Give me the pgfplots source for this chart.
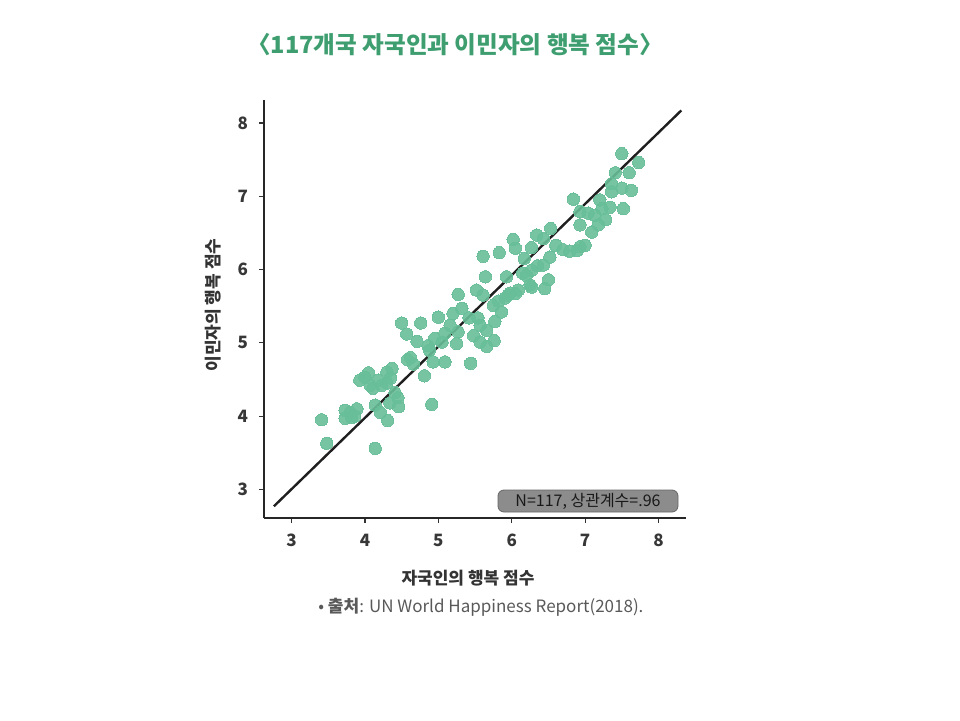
\documentclass[border=0pt]{standalone}
\usepackage{pgfplots}
\pgfplotsset{compat=1.18}
\usepackage{fontspec}
\setmainfont{Liberation Sans}
\newfontfamily\kr{Noto Sans CJK KR}
\definecolor{ptgreen}{RGB}{104,190,152}
\definecolor{titlegreen}{RGB}{62,158,112}
\definecolor{ticklab}{RGB}{55,55,55}
\begin{document}
\begin{tikzpicture}
\path[use as bounding box] (0pt,0pt) rectangle (480pt,360pt);
\begin{axis}[
  at={(132pt,101pt)}, anchor=south west,
  x=36.7pt, y=36.65pt,
  xmin=2.625, xmax=8.38, ymin=2.61, ymax=8.31,
  axis lines*=left,
  axis line style={line width=0.6pt, color=black!85, -},
  xtick={3,4,5,6,7,8}, ytick={3,4,5,6,7,8},
  tick align=outside,
  major tick length=2.5pt,
  tick style={line width=0.6pt, color=black!80},
  tick label style={font=\kr\bfseries\fontsize{8.5}{10}\selectfont, color=ticklab},
  /pgf/number format/assume math mode=true,
  xticklabel style={yshift=-2pt},
  yticklabel style={xshift=-2pt},
  clip=false,
]
\addplot[only marks, mark=*, mark size=3.1pt, color=ptgreen, mark options={fill=ptgreen, draw=ptgreen, line width=0pt, opacity=0.9}] coordinates {
(3.41,3.95) (3.48,3.63) (4.14,3.56) (3.73,4.08) (3.73,3.97) (3.82,3.98)
(3.89,4.10) (3.80,4.05) (3.93,4.49) (4.05,4.59) (4.07,4.42) (4.11,4.38)
(4.18,4.49) (4.23,4.42) (4.30,4.60) (4.37,4.65) (4.35,4.52) (4.30,4.45)
(4.14,4.15) (4.21,4.05) (4.31,3.94) (4.34,4.18) (4.46,4.13) (4.41,4.32)
(4.91,4.16) (4.50,5.27) (4.57,5.12) (4.76,5.27) (4.71,5.02) (5.00,5.35)
(4.58,4.77) (4.66,4.71) (4.81,4.55) (4.86,4.96) (4.93,4.74) (5.09,4.74)
(5.09,5.13) (5.16,5.24) (5.27,5.15) (5.25,4.99) (5.05,5.01) (5.44,4.72)
(5.27,5.66) (5.32,5.47) (5.52,5.72) (5.61,5.65) (5.64,5.90) (5.54,5.34)
(5.57,5.24) (5.66,5.17) (5.77,5.29) (5.86,5.42) (5.75,5.51) (5.82,5.57)
(5.91,5.61) (5.98,5.68) (6.09,5.72) (6.20,5.92) (6.25,5.79) (5.57,5.01)
(5.66,4.95) (5.76,5.03) (5.61,6.18) (5.83,6.23) (6.02,6.41) (6.05,6.29)
(6.27,6.30) (6.34,6.47) (6.43,6.42) (6.53,6.56) (6.70,6.27) (6.79,6.25)
(6.89,6.26) (6.93,6.31) (7.00,6.33) (6.93,6.61) (7.09,6.51) (7.04,6.77)
(7.13,6.74) (6.84,6.96) (6.52,6.17) (6.43,6.06) (6.27,5.99) (6.50,5.86)
(6.45,5.74) (6.27,5.76) (6.05,5.67) (5.95,5.65) (7.50,7.58) (7.73,7.46)
(7.60,7.32) (7.41,7.32) (7.36,7.17) (7.50,7.11) (7.63,7.08) (7.36,7.06)
(7.52,6.83) (7.34,6.85) (7.23,6.83) (6.93,6.79) (7.28,6.68) (7.18,6.61)
(6.35,6.05) (4.62,4.80) (5.42,5.34) (4.00,4.53) (3.86,4.00) (6.60,6.33)
(6.17,6.15) (5.48,5.10) (5.20,5.40) (4.88,4.90) (4.45,4.25) (6.15,5.95)
(7.20,6.95) (5.93,5.90) (4.95,5.06)
};
\addplot[line width=1.2pt, color=black!88] coordinates {(2.76,2.77) (8.31,8.17)};
\end{axis}
\node[font=\kr\bfseries\fontsize{11.8}{14}\selectfont, text=titlegreen] at (227.5pt,337.5pt) {〈117개국 자국인과 이민자의 행복 점수〉};
\node[font=\kr\bfseries\fontsize{8.5}{10}\selectfont, text=black!80] at (234pt,71pt) {자국인의 행복 점수};
\node[font=\kr\bfseries\fontsize{8.5}{10}\selectfont, text=black!80, rotate=90] at (106.5pt,207.5pt) {이민자의 행복 점수};
\node[anchor=west, font=\kr\fontsize{8.5}{10}\selectfont, text=black!65, inner sep=0pt] at (159pt,56.5pt) {• \textbf{출처}: UN World Happiness Report(2018).};
\node[fill=black!45, draw=black!60, line width=0.4pt, rounded corners=3pt, minimum width=90pt, minimum height=11pt, inner sep=1pt, font=\kr\fontsize{8}{9}\selectfont, text=black!90] at (294pt,109.5pt) {N=117, 상관계수=.96};
\end{tikzpicture}
\end{document}
